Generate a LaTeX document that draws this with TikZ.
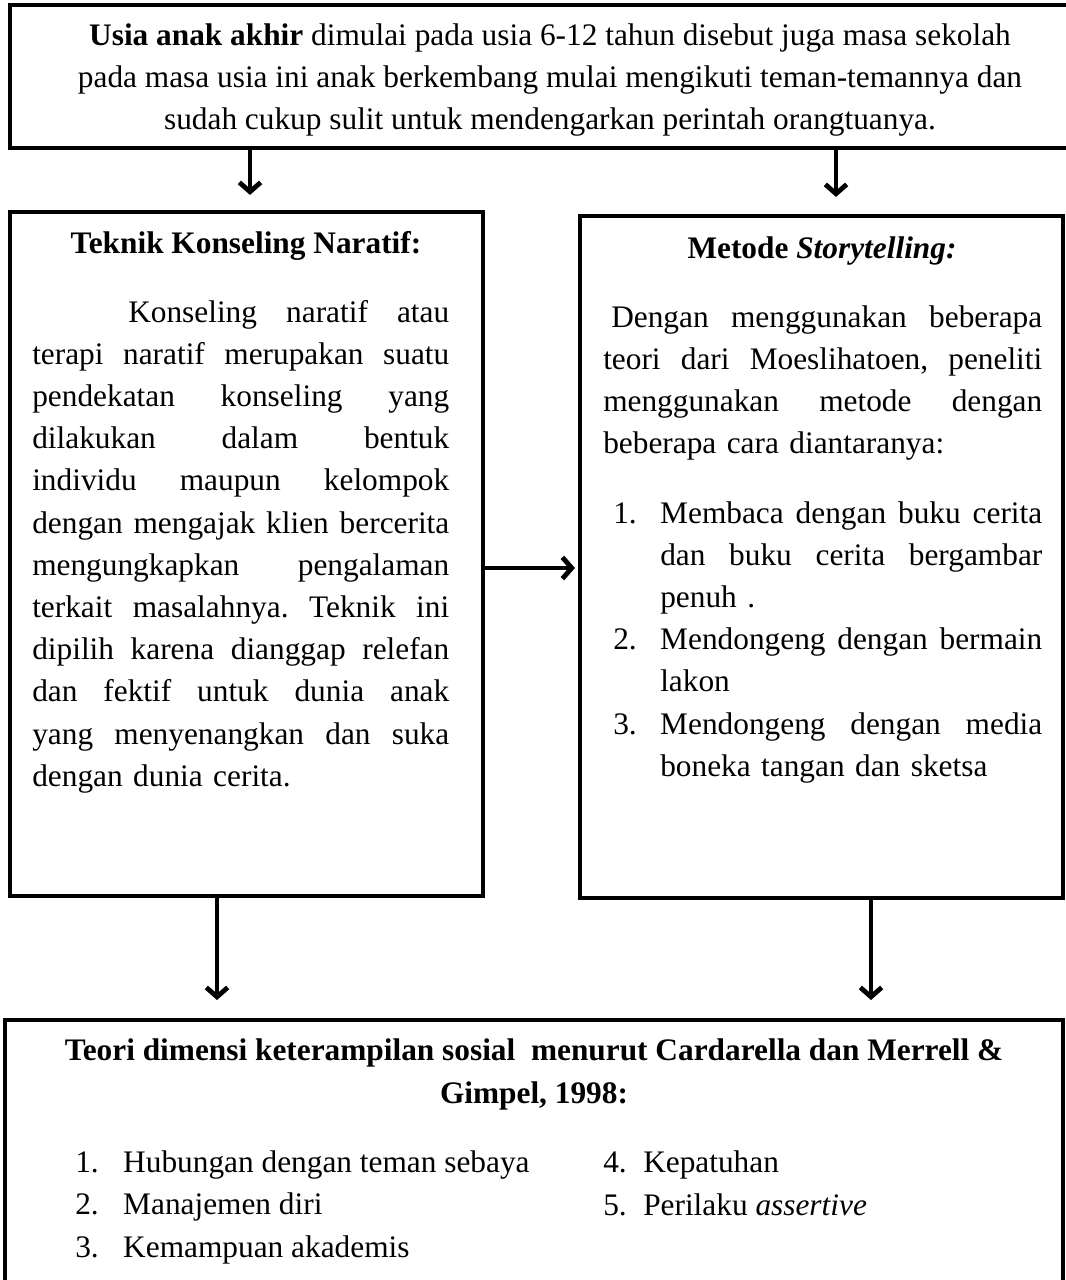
\documentclass[tikz,border=0pt]{standalone}
\usepackage{fontspec}
\setmainfont{Liberation Serif}
\usetikzlibrary{arrows.meta,fit}
\newlength{\jw}
\newcommand{\jline}[1]{\hbox to\jw{\spaceskip=\fontdimen2\font plus 1fil minus 2pt\relax #1}\par}
\newcommand{\nline}[1]{\hbox{#1}\par}
\newcommand{\itemno}[2][35.25pt]{\llap{\makebox[#1][l]{#2}}}
\begin{document}
\begin{tikzpicture}[x=0.75pt,y=-0.75pt,
  box/.style={draw, line width=3.6pt, inner sep=0pt},
  txt/.style={inner sep=0pt, font=\fontsize{23.5}{31.65}\selectfont\frenchspacing},
  arr/.style={line width=3.6pt, -{Straight Barb[length=7pt,width=16pt]}},
]
\useasboundingbox (0,0) rectangle (1066,1280);
% boxes
\node[box, fit={(10,5) (1090,148)}] (top) {};
\node[box, fit={(10,212) (483,896)}] (lbox) {};
\node[box, fit={(580,216) (1063,898)}] (rbox) {};
\node[box, fit={(5,1020) (1063,1300)}] (bot) {};
% top text (anchor base = last line)
\node[txt, anchor=base, align=center] (toptext) at (550,130)
 {\textbf{Usia anak akhir} dimulai pada usia 6-12 tahun disebut juga masa sekolah\\
  pada masa usia ini anak berkembang mulai mengikuti teman-temannya dan\\
  sudah cukup sulit untuk mendengarkan perintah orangtuanya.};
% left box
\node[txt, anchor=base] (ltitle) at (246,253) {\textbf{Teknik Konseling Naratif:}};
\node[txt, anchor=base west, text width=312.75pt] (lbody) at (32,322)
 {\setlength{\jw}{312.75pt}%
  \jline{\hspace*{72pt}Konseling naratif atau}%
  \jline{terapi naratif merupakan suatu}%
  \jline{pendekatan konseling yang}%
  \jline{dilakukan dalam bentuk}%
  \jline{individu maupun kelompok}%
  \jline{dengan mengajak klien bercerita}%
  \jline{mengungkapkan pengalaman}%
  \jline{terkait masalahnya. Teknik ini}%
  \jline{dipilih karena dianggap relefan}%
  \jline{dan fektif untuk dunia anak}%
  \jline{yang menyenangkan dan suka}%
  \nline{dengan dunia cerita.}};
% right box
\node[txt, anchor=base] (rtitle) at (822,258) {\textbf{Metode \textit{Storytelling:}}};
\node[txt, anchor=base west, text width=329.25pt] (rbody) at (603,327)
 {\setlength{\jw}{329.25pt}%
  \jline{\hspace*{6pt}Dengan menggunakan beberapa}%
  \jline{teori dari Moeslihatoen, peneliti}%
  \jline{menggunakan metode dengan}%
  \nline{beberapa cara diantaranya:}};
\node[txt, anchor=base west, text width=286.5pt] (rlist) at (660,523)
 {\setlength{\jw}{286.5pt}%
  \jline{\itemno{1.}Membaca dengan buku cerita}%
  \jline{dan buku cerita bergambar}%
  \nline{penuh .}%
  \jline{\itemno{2.}Mendongeng dengan bermain}%
  \nline{lakon}%
  \jline{\itemno{3.}Mendongeng dengan media}%
  \nline{boneka tangan dan sketsa}};
% bottom box (anchor base = last line)
\node[txt, anchor=base, align=center] (btitle) at (534,1103)
 {\textbf{Teori dimensi keterampilan sosial\ \ menurut Cardarella dan Merrell \&}\\
  \textbf{Gimpel, 1998:}};
\node[txt, anchor=base west, align=left] (blist1) at (123,1257)
 {\itemno[36pt]{1.}Hubungan dengan teman sebaya\\
  \itemno[36pt]{2.}Manajemen diri\\
  \itemno[36pt]{3.}Kemampuan akademis};
\node[txt, anchor=base west, align=left] (blist2) at (643,1215)
 {\itemno[30pt]{4.}Kepatuhan\\
  \itemno[30pt]{5.}Perilaku \textit{assertive}};
% connectors
\coordinate (ax1) at (250,0);
\coordinate (ax2) at (836,0);
\coordinate (ay3) at (0,568);
\coordinate (ax4) at (217,0);
\coordinate (ax5) at (871,0);
\draw[arr, shorten >=11pt] (top.south -| ax1) -- (lbox.north -| ax1);
\draw[arr, shorten >=12.5pt] (top.south -| ax2) -- (rbox.north -| ax2);
\draw[arr, shorten >=2pt] (lbox.east |- ay3) -- (rbox.west |- ay3);
\draw[arr, shorten >=13.2pt] (lbox.south -| ax4) -- (bot.north -| ax4);
\draw[arr, shorten >=13.2pt] (rbox.south -| ax5) -- (bot.north -| ax5);
\end{tikzpicture}
\end{document}
